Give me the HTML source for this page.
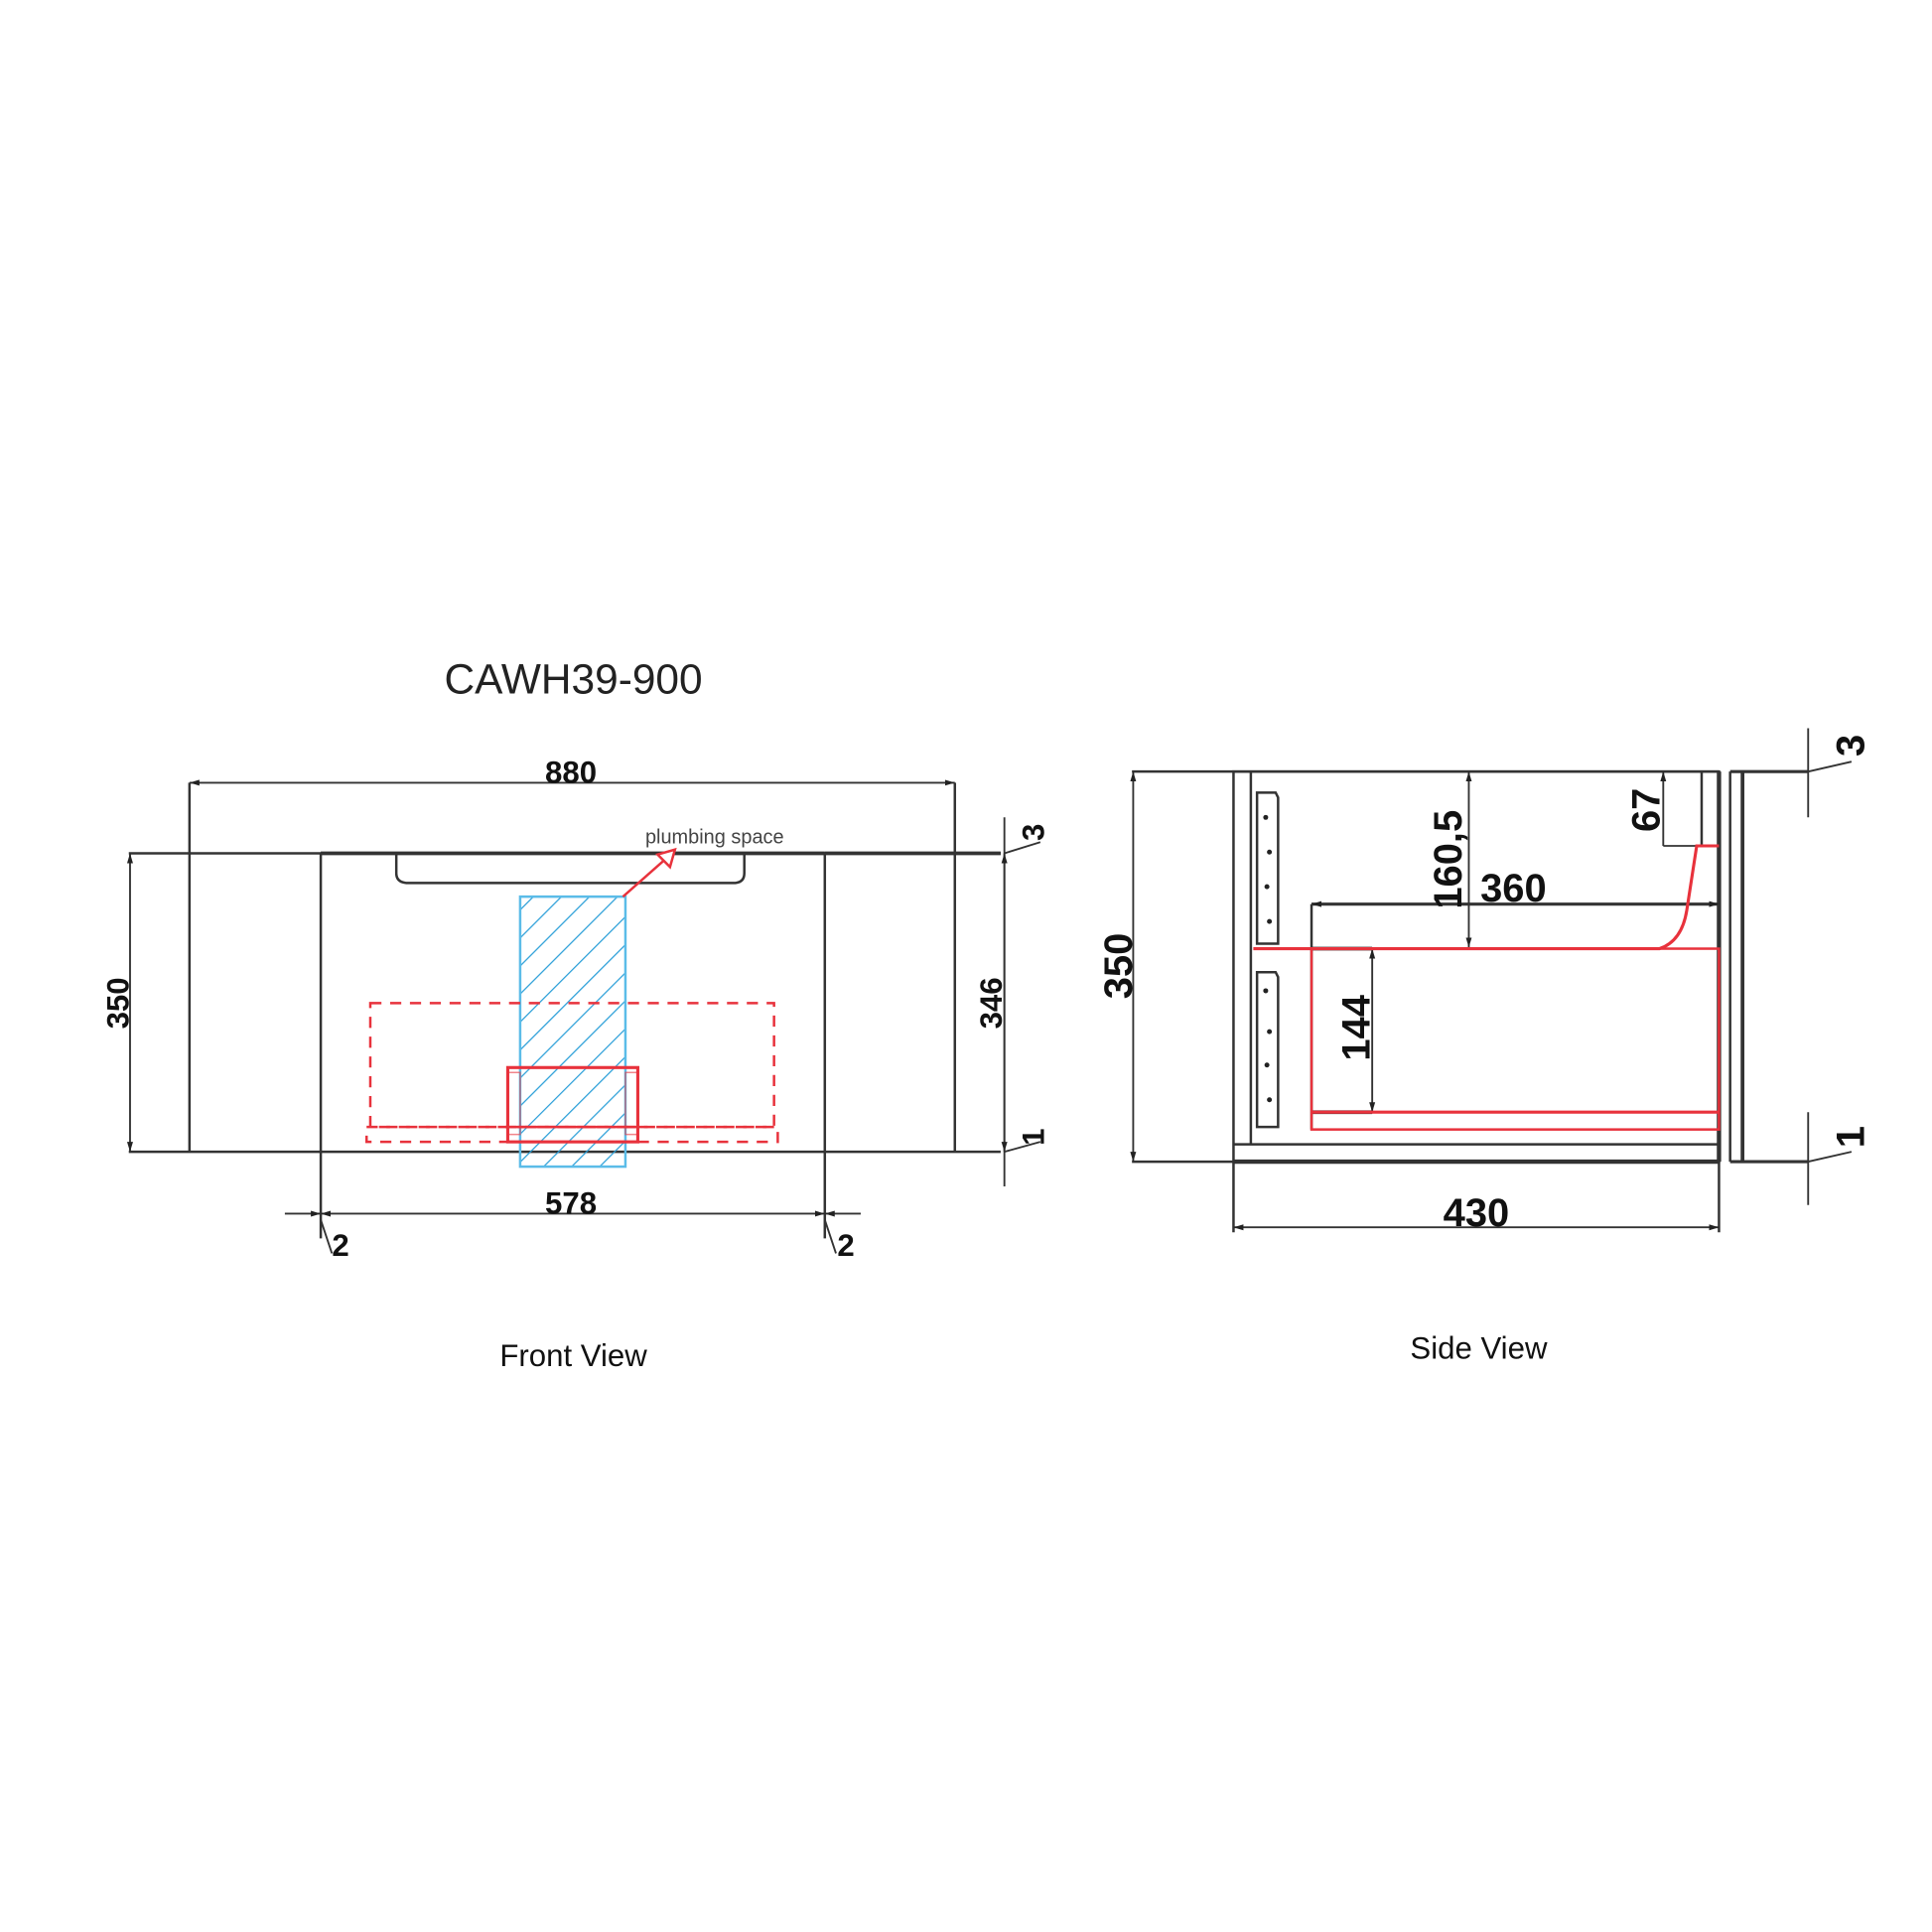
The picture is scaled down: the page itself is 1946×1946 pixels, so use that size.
<!DOCTYPE html>
<html><head><meta charset="utf-8"><style>
html,body{margin:0;padding:0;background:#fff;}
svg{display:block;}
text{font-family:"Liberation Sans",sans-serif;}
</style></head><body>
<svg width="1946" height="1946" viewBox="0 0 1560 1560" xmlns="http://www.w3.org/2000/svg">
<defs>
<marker id="a" viewBox="0 0 10 10" refX="10" refY="5" markerWidth="8" markerHeight="8" orient="auto-start-reverse" markerUnits="userSpaceOnUse"><path d="M0,2 L10,5 L0,8z" fill="#222"/></marker>
<pattern id="h" width="16" height="16" patternUnits="userSpaceOnUse" patternTransform="rotate(45)"><line x1="0" y1="0" x2="0" y2="16" stroke="#2a9fd8" stroke-width="2"/></pattern>
</defs>
<rect width="1560" height="1560" fill="#fff"/>
<text x="463" y="560" font-size="34" text-anchor="middle" fill="#222">CAWH39-900</text>

<!-- FRONT VIEW -->
<g stroke="#333" fill="none" stroke-width="2">
<line x1="153" y1="632" x2="771" y2="632" marker-start="url(#a)" marker-end="url(#a)" stroke-width="1.5"/>
<line x1="153" y1="632" x2="153" y2="930"/>
<line x1="771" y1="632" x2="771" y2="930"/>
<line x1="104" y1="689" x2="808" y2="689"/>
<line x1="104" y1="930" x2="808" y2="930"/>
<line x1="259" y1="689" x2="666" y2="689" stroke-width="3"/>
<line x1="666" y1="689" x2="808" y2="689" stroke-width="3"/>
<line x1="105" y1="689" x2="105" y2="930" marker-start="url(#a)" marker-end="url(#a)" stroke-width="1.5"/>
<line x1="259" y1="689" x2="259" y2="1000"/>
<line x1="666" y1="689" x2="666" y2="1000"/>
<line x1="259" y1="980" x2="666" y2="980" marker-start="url(#a)" marker-end="url(#a)" stroke-width="1.5"/>
<line x1="230" y1="980" x2="259" y2="980" marker-end="url(#a)" stroke-width="1.5"/>
<line x1="695" y1="980" x2="666" y2="980" marker-end="url(#a)" stroke-width="1.5"/>
<path d="M259,985 L268,1012" stroke-width="1.5"/>
<path d="M666,985 L675,1012" stroke-width="1.5"/>
<path d="M320,689 L320,705 Q320,713 330,713 L592,713 Q601,713 601,705 L601,689"/>
<line x1="811" y1="660" x2="811" y2="958" stroke-width="1.5"/>
<line x1="811" y1="689" x2="811" y2="930" marker-start="url(#a)" marker-end="url(#a)" stroke-width="1.5"/>
<path d="M811,689 L840,680" stroke-width="1.5"/>
<path d="M811,930 L840,922" stroke-width="1.5"/>
</g>
<text x="461" y="632" font-size="25" font-weight="bold" text-anchor="middle" fill="#111">880</text>
<text x="461" y="980" font-size="25" font-weight="bold" text-anchor="middle" fill="#111">578</text>
<text x="275" y="1014" font-size="25" font-weight="bold" text-anchor="middle" fill="#111">2</text>
<text x="683" y="1014" font-size="25" font-weight="bold" text-anchor="middle" fill="#111">2</text>
<text transform="translate(104,810) rotate(-90)" font-size="25" font-weight="bold" text-anchor="middle" fill="#111">350</text>
<text transform="translate(809,810) rotate(-90)" font-size="25" font-weight="bold" text-anchor="middle" fill="#111">346</text>
<text transform="translate(843,672) rotate(-90)" font-size="25" font-weight="bold" text-anchor="middle" fill="#111">3</text>
<text transform="translate(843,918) rotate(-90)" font-size="25" font-weight="bold" text-anchor="middle" fill="#111">1</text>
<text x="577" y="681" font-size="16" text-anchor="middle" fill="#444">plumbing space</text>

<rect x="420" y="724" width="85" height="218" fill="url(#h)" stroke="#5bbce8" stroke-width="2"/>
<g stroke="#e8323c" fill="none" stroke-width="2">
<line x1="503" y1="724" x2="537" y2="694"/>
<path d="M531,690 L545,686 L541,700z" fill="#fff"/>
<rect x="299" y="810" width="326" height="100" stroke-dasharray="9,7"/>
<rect x="296" y="910" width="332" height="12" stroke-dasharray="9,7"/>
<rect x="410" y="862" width="105" height="60" stroke-width="2.5"/>
<line x1="410" y1="910" x2="515" y2="910"/>
<rect x="410" y="866" width="10" height="50" stroke-width="1.2" opacity=".6"/>
<rect x="505" y="866" width="10" height="50" stroke-width="1.2" opacity=".6"/>
</g>
<text x="463" y="1103" font-size="25" text-anchor="middle" fill="#111">Front View</text>

<!-- SIDE VIEW -->
<g stroke="#333" fill="none" stroke-width="2">
<line x1="914" y1="623" x2="1388" y2="623"/>
<line x1="914" y1="938" x2="996" y2="938"/>
<line x1="915" y1="623" x2="915" y2="938" marker-start="url(#a)" marker-end="url(#a)" stroke-width="1.5"/>
<rect x="996" y="623" width="392" height="315"/>
<line x1="1010" y1="623" x2="1010" y2="924"/>
<line x1="996" y1="924" x2="1388" y2="924"/>
<line x1="996" y1="938" x2="1388" y2="938" stroke-width="3.5"/>
<line x1="1374" y1="623" x2="1374" y2="683"/>
<line x1="1388" y1="623" x2="1388" y2="938" stroke-width="3.5"/>
<line x1="1397" y1="623" x2="1397" y2="938"/>
<line x1="1407" y1="623" x2="1407" y2="938" stroke-width="3"/>
<line x1="1397" y1="623" x2="1460" y2="623" stroke-width="2.5"/>
<line x1="1397" y1="938" x2="1460" y2="938" stroke-width="2.5"/>
<line x1="1460" y1="588" x2="1460" y2="660" stroke-width="1.5"/>
<line x1="1460" y1="898" x2="1460" y2="973" stroke-width="1.5"/>
<path d="M1460,623 L1495,615" stroke-width="1.5"/>
<path d="M1460,938 L1495,930" stroke-width="1.5"/>
<path d="M1015,640 L1030,640 L1032,644 L1032,762 L1015,762z"/>
<path d="M1015,785 L1030,785 L1032,789 L1032,910 L1015,910z"/>
<line x1="1186" y1="623" x2="1186" y2="765" marker-start="url(#a)" marker-end="url(#a)" stroke-width="1.5"/>
<line x1="1059" y1="730" x2="1388" y2="730" marker-start="url(#a)" marker-end="url(#a)" stroke-width="2.5"/>
<line x1="1059" y1="730" x2="1059" y2="912"/>
<line x1="1108" y1="766" x2="1108" y2="898" marker-start="url(#a)" marker-end="url(#a)" stroke-width="1.5"/>
<line x1="1059" y1="766" x2="1108" y2="766" stroke-width="3"/>
<line x1="1059" y1="898" x2="1108" y2="898" stroke-width="3"/>
<line x1="1343" y1="623" x2="1343" y2="683" marker-start="url(#a)" stroke-width="1.5"/>
<line x1="1343" y1="683" x2="1374" y2="683" stroke-width="1.5"/>
<line x1="996" y1="938" x2="996" y2="995"/>
<line x1="1388" y1="938" x2="1388" y2="995"/>
<line x1="996" y1="991" x2="1388" y2="991" marker-start="url(#a)" marker-end="url(#a)" stroke-width="1.5"/>
</g>
<g fill="#222">
<circle cx="1022" cy="660" r="2"/><circle cx="1025" cy="688" r="2"/><circle cx="1023" cy="716" r="2"/><circle cx="1025" cy="744" r="2"/>
<circle cx="1022" cy="800" r="2"/><circle cx="1025" cy="833" r="2"/><circle cx="1023" cy="860" r="2"/><circle cx="1025" cy="888" r="2"/>
</g>
<g stroke="#e8323c" fill="none" stroke-width="2.5">
<path d="M1012,766 L1340,766 Q1358,760 1362,735 L1370,683 L1388,683"/>
<rect x="1059" y="766" width="329" height="146" stroke-width="2"/>
<line x1="1059" y1="898" x2="1388" y2="898"/>
</g>
<text transform="translate(914,780) rotate(-90)" font-size="32" font-weight="bold" text-anchor="middle" fill="#111">350</text>
<text transform="translate(1180,694) rotate(-90)" font-size="32" font-weight="bold" text-anchor="middle" fill="#111">160,5</text>
<text x="1222" y="728" font-size="32" font-weight="bold" text-anchor="middle" fill="#111">360</text>
<text transform="translate(1106,830) rotate(-90)" font-size="32" font-weight="bold" text-anchor="middle" fill="#111">144</text>
<text transform="translate(1340,654) rotate(-90)" font-size="32" font-weight="bold" text-anchor="middle" fill="#111">67</text>
<text x="1192" y="990" font-size="32" font-weight="bold" text-anchor="middle" fill="#111">430</text>
<text transform="translate(1505,602) rotate(-90)" font-size="32" font-weight="bold" text-anchor="middle" fill="#111">3</text>
<text transform="translate(1505,918) rotate(-90)" font-size="32" font-weight="bold" text-anchor="middle" fill="#111">1</text>
<text x="1194" y="1097" font-size="25" text-anchor="middle" fill="#111">Side View</text>
</svg>
</body></html>
